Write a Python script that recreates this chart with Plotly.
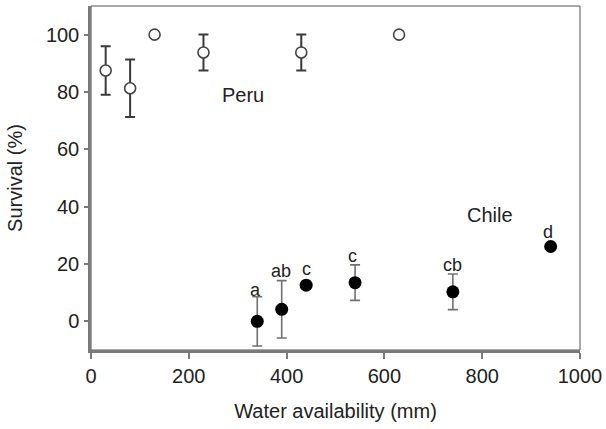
import plotly.graph_objects as go

# Peru (open circles)
peru_x = [30, 80, 130, 230, 430, 630]
peru_y = [87.5, 81.3, 100, 93.8, 93.8, 100]
peru_err = [8.5, 10.0, 0, 6.3, 6.3, 0]

# Chile (filled circles)
chile_x = [340, 390, 440, 540, 740, 940]
chile_y = [0, 4.2, 12.6, 13.5, 10.3, 26.1]
chile_err = [8.6, 10.0, 0, 6.2, 6.2, 0]

# significance letters
letter_text = ["a", "ab", "c", "c", "cb", "d"]
letter_x = [337, 388, 440, 535, 740, 935]
letter_y = [11.1, 17.4, 18.3, 22.7, 19.8, 31.2]

# group labels
group_text = ["Peru", "Chile"]
group_x = [311, 815]
group_y = [79.1, 37.2]

x_ticks = [0, 200, 400, 600, 800, 1000]
y_ticks = [0, 20, 40, 60, 80, 100]

FONT = "Liberation Sans, Arial, sans-serif"

fig = go.Figure()

fig.add_trace(go.Scatter(
    x=peru_x, y=peru_y, mode="markers",
    marker=dict(symbol="circle", size=11, color="white",
                line=dict(color="#444444", width=1.6)),
    error_y=dict(type="data", array=peru_err, visible=True,
                 color="#3a3a3a", thickness=2, width=5),
    showlegend=False,
))

fig.add_trace(go.Scatter(
    x=chile_x, y=chile_y, mode="markers",
    marker=dict(symbol="circle", size=13, color="black",
                line=dict(color="black", width=0)),
    error_y=dict(type="data", array=chile_err, visible=True,
                 color="#707070", thickness=1.6, width=5),
    showlegend=False,
))

annotations = []
for t, x, y in zip(letter_text, letter_x, letter_y):
    annotations.append(dict(x=x, y=y, text=t, showarrow=False,
                            xref="x", yref="y",
                            font=dict(family=FONT, size=18, color="#222222")))
for t, x, y in zip(group_text, group_x, group_y):
    annotations.append(dict(x=x, y=y, text=t, showarrow=False,
                            xref="x", yref="y",
                            font=dict(family=FONT, size=20, color="#222222")))

fig.update_layout(
    width=606, height=429,
    margin=dict(l=91, r=26, t=6, b=79),
    paper_bgcolor="white", plot_bgcolor="white",
    font=dict(family=FONT, size=20, color="#222222"),
    annotations=annotations,
    shapes=[dict(type="rect", xref="paper", yref="paper",
                 x0=0, y0=0, x1=1, y1=1,
                 line=dict(color="#555555", width=1), layer="below")],
)

fig.update_xaxes(
    range=[0, 1000], tickvals=x_ticks,
    ticktext=[str(v) for v in x_ticks],
    showgrid=False, zeroline=False,
    showline=True, linecolor="#7a7a7a", linewidth=2.5,
    ticks="outside", ticklen=6, tickwidth=1.5, tickcolor="#7a7a7a",
    tickfont=dict(family=FONT, size=20, color="#222222"),
    ticklabeloverflow="allow",
    automargin=False,
    title=dict(text="Water availability (mm)", standoff=19,
               font=dict(family=FONT, size=20, color="#222222")),
)
fig.update_yaxes(
    range=[-10, 110], tickvals=y_ticks,
    ticktext=[str(v) for v in y_ticks],
    showgrid=False, zeroline=False,
    showline=True, linecolor="#7a7a7a", linewidth=2.5,
    ticks="outside", ticklen=4, tickwidth=1.5, tickcolor="#7a7a7a",
    ticklabelstandoff=1,
    tickfont=dict(family=FONT, size=20, color="#222222"),
    automargin=False,
    title=dict(text="Survival (%)", standoff=18,
               font=dict(family=FONT, size=20, color="#222222")),
)

fig.write_html(
    "out.html",
    config={"displayModeBar": False},
    post_script="document.body.style.margin='0';document.body.style.overflow='hidden';",
)
